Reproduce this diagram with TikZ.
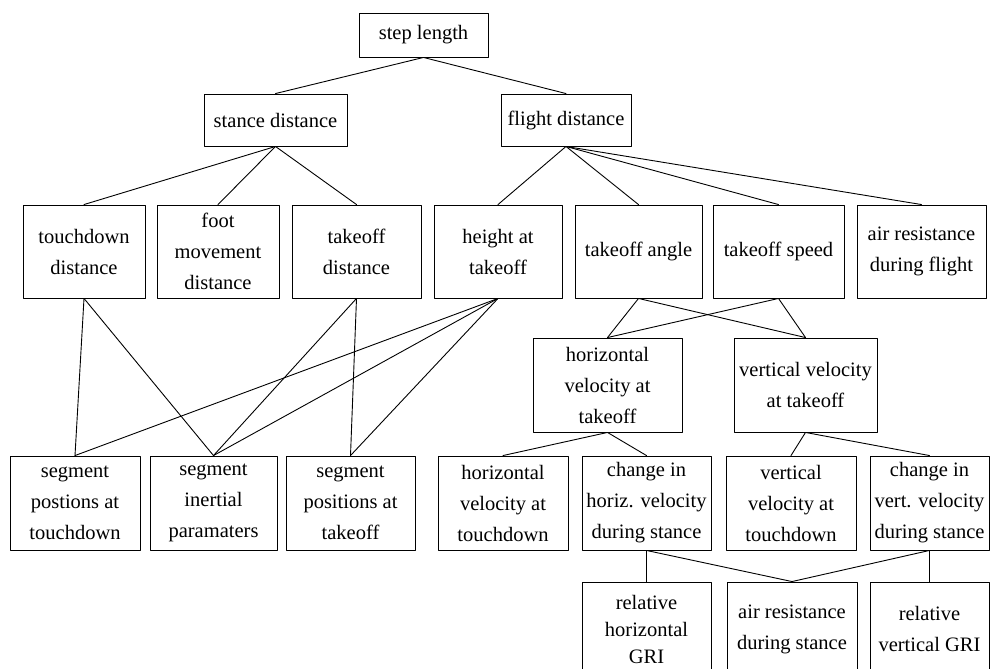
\documentclass[tikz,border=0pt]{standalone}
\usepackage{fontspec}
\setmainfont{Liberation Serif}

\begin{document}
\begin{tikzpicture}[line cap=round, line join=round,
                    x=1pt, y=-1pt,
                    box/.style={draw, line width=0.9pt, inner sep=0pt,
                      align=center, font=\fontsize{20.5}{31}\selectfont}]
\useasboundingbox (0,0) rectangle (991,669);
\clip (0,0) rectangle (991,669);
\node [box, minimum width=129pt, minimum height=44pt] (steplen) at (423.5,35) {step length};
\node [box, minimum width=143pt, minimum height=52pt] (stance) at (275.5,120) {stance distance};
\node [box, minimum width=130pt, minimum height=52pt] (flight) at (566,120) {flight distance};
\node [box, minimum width=122pt, minimum height=93pt] (tdist) at (84,251.5) {touchdown\\distance};
\node [box, minimum width=122pt, minimum height=93pt] (foot) at (218,251.5) {foot\\movement\\distance};
\node [box, minimum width=129pt, minimum height=93pt] (todist) at (356.5,251.5) {takeoff\\distance};
\node [box, minimum width=128pt, minimum height=93pt] (height) at (498,251.5) {height at\\takeoff};
\node [box, minimum width=127pt, minimum height=93pt] (angle) at (638.5,251.5) {takeoff angle};
\node [box, minimum width=131pt, minimum height=93pt] (speed) at (778.5,251.5) {takeoff speed};
\node [box, minimum width=129pt, minimum height=93pt] (airfl) at (921.5,251.5) {air resistance\\during flight};
\node [box, minimum width=149pt, minimum height=94pt] (hvel) at (607.5,385) {horizontal\\velocity at\\takeoff};
\node [box, minimum width=143pt, minimum height=94pt] (vvel) at (805.5,385) {vertical velocity\\at takeoff};
\node [box, minimum width=130pt, minimum height=94pt] (segtd) at (75,503) {segment\\postions at\\touchdown};
\node [box, minimum width=127pt, minimum height=94pt] (seginert) at (213.5,503) {segment\\inertial\\paramaters};
\node [box, minimum width=129pt, minimum height=94pt] (segto) at (350.5,503) {segment\\positions at\\takeoff};
\node [box, minimum width=130pt, minimum height=94pt] (hvtd) at (503,503) {horizontal\\velocity at\\touchdown};
\node [box, minimum width=129pt, minimum height=94pt] (dhv) at (646.5,503) {change in\\horiz. velocity\\during stance};
\node [box, minimum width=130pt, minimum height=94pt] (vvtd) at (791,503) {vertical\\velocity at\\touchdown};
\node [box, minimum width=119pt, minimum height=94pt] (dvv) at (929.5,503) {change in\\vert. velocity\\during stance};
\node [box, minimum width=129pt, minimum height=94pt,
       font=\fontsize{20.5}{27}\selectfont] (relh) at (646.5,629) {relative\\horizontal\\GRI};
\node [box, minimum width=130pt, minimum height=94pt] (airst) at (792,629) {air resistance\\during stance};
\node [box, minimum width=119pt, minimum height=94pt] (relv) at (929.5,629) {relative\\vertical GRI};
\foreach \a/\b in {steplen/stance, steplen/flight,
  stance/tdist, stance/foot, stance/todist,
  flight/height, flight/angle, flight/speed, flight/airfl,
  angle/hvel, angle/vvel, speed/hvel, speed/vvel,
  tdist/segtd, tdist/seginert, todist/seginert, todist/segto,
  height/segtd, height/seginert, height/segto,
  hvel/hvtd, hvel/dhv, vvel/vvtd, vvel/dvv,
  dhv/relh, dhv/airst, dvv/airst, dvv/relv}
\draw [line width=0.9pt] (\a.south) -- (\b.north);
\end{tikzpicture}
\end{document}
